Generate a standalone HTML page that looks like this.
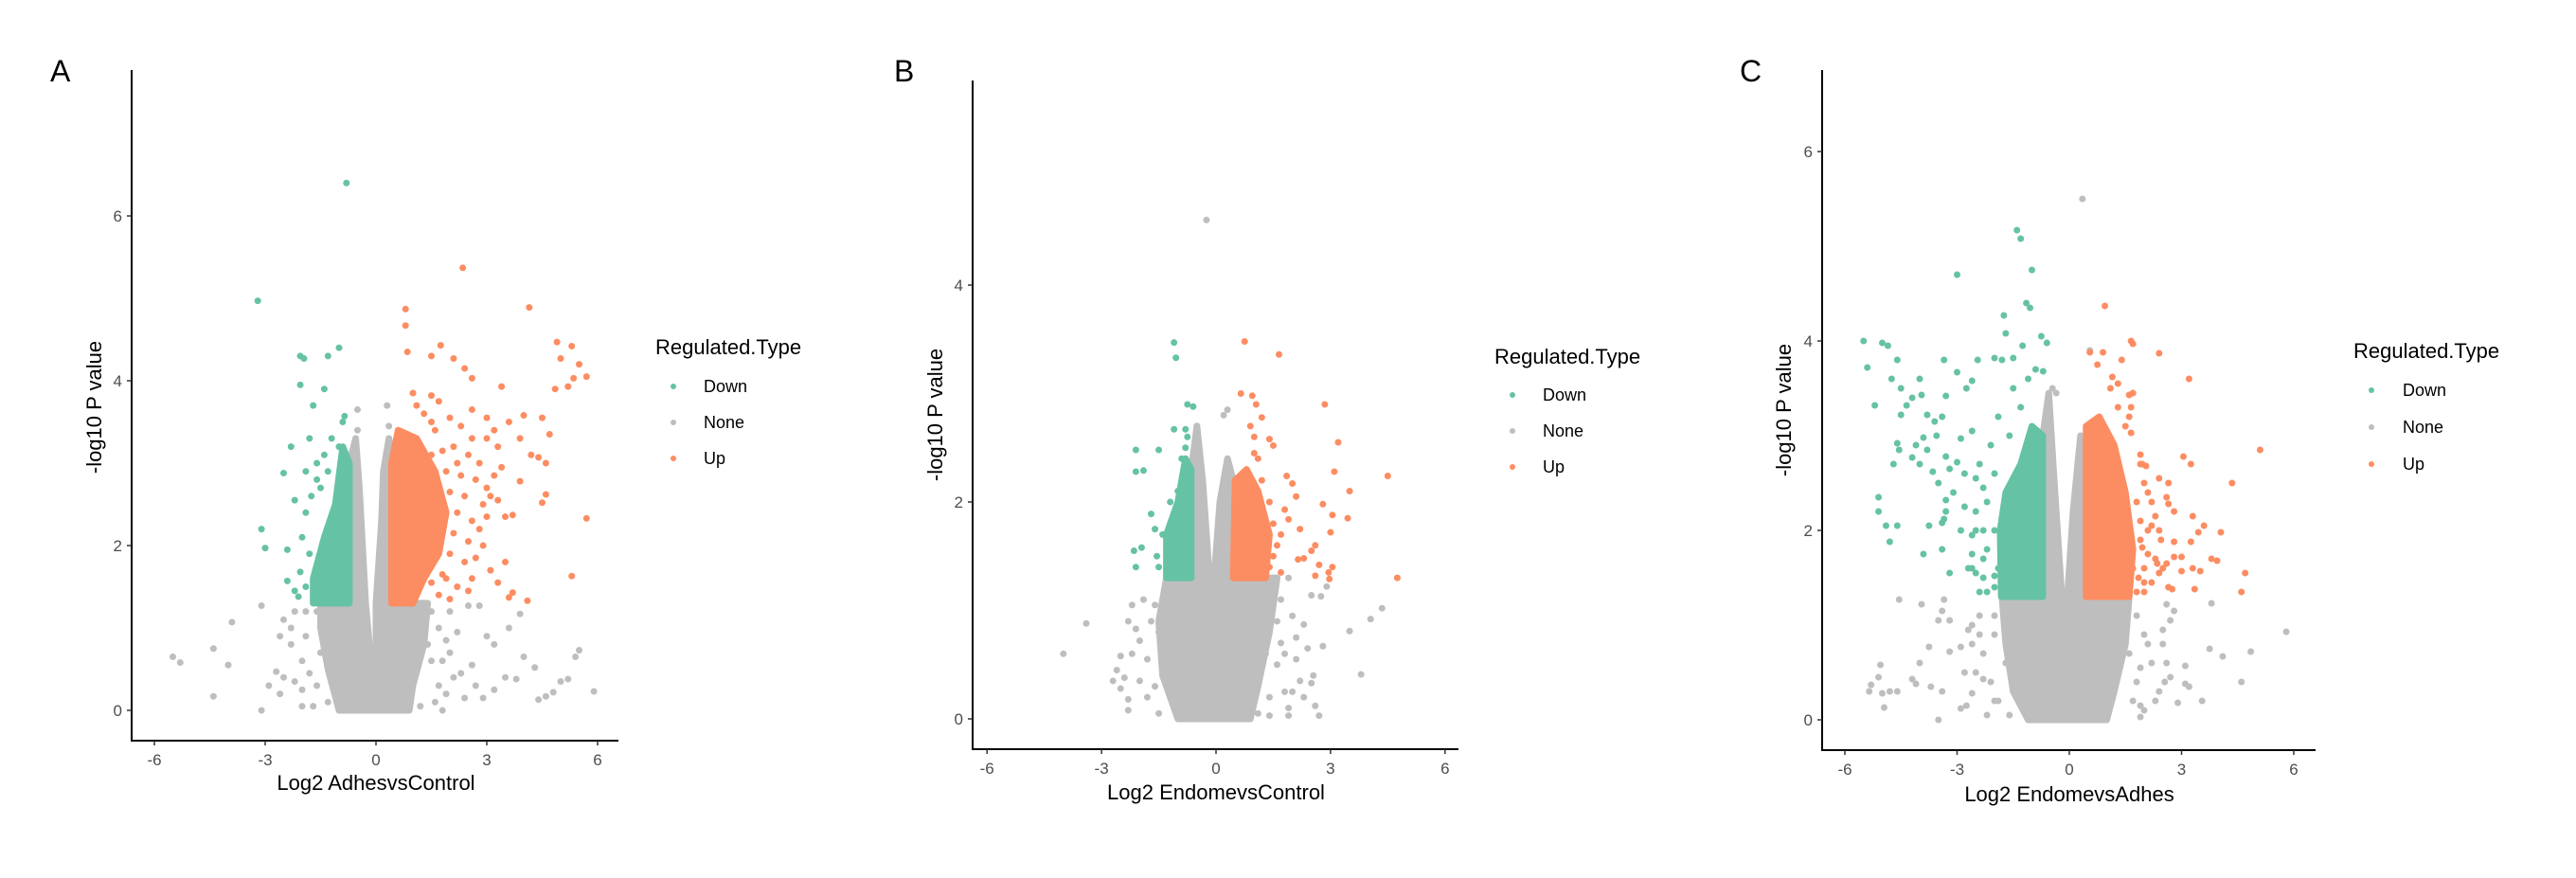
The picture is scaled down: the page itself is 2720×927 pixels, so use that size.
<!DOCTYPE html>
<html><head><meta charset="utf-8">
<style>
html,body{margin:0;padding:0;background:#fff;}
svg{display:block;font-family:"Liberation Sans",sans-serif;}
</style></head>
<body>
<svg id="chart" width="2720" height="927" viewBox="0 0 2720 927" xmlns="http://www.w3.org/2000/svg">
<rect width="2720" height="927" fill="#fff"/>
</svg>
<script>
const xTicks = [-6, -3, 0, 3, 6];
const legendLabels = ["Down", "None", "Up"];

// Panel A data
const aYTicks = [0, 2, 4, 6];
const aGrayCore = [[-1.0,0],[-1.3,0.5],[-1.5,1.0],[-1.5,1.3],[-0.72,1.3],[-0.72,3.0],[-0.55,3.3],[-0.45,2.7],[-0.28,1.3],[-0.1,0.42],[0.0,0.42],[0.0,1.3],[0.15,2.3],[0.2,2.9],[0.35,3.3],[0.42,3.0],[0.42,1.3],[1.4,1.3],[1.3,0.8],[1.0,0.3],[0.9,0]];
const aDownCore = [[-1.7,1.3],[-0.72,1.3],[-0.72,3.0],[-0.9,3.2],[-1.1,2.5],[-1.4,2.1],[-1.7,1.6]];
const aUpCore = [[0.42,1.3],[1.0,1.3],[1.3,1.6],[1.7,1.9],[1.9,2.4],[1.6,2.9],[1.1,3.3],[0.6,3.4],[0.42,3.0]];
const aDown = [[-0.8,6.4],[-3.2,4.97],[-2.05,4.3],[-1.95,4.27],[-1.3,4.3],[-1.0,4.4],[-2.05,3.95],[-1.4,3.9],[-1.7,3.7],[-0.85,3.57],[-2.3,3.2],[-2.5,2.88],[-3.1,2.2],[-3.0,1.97],[-2.4,1.95],[-2.4,1.57],[-2.05,1.68],[-2.1,1.38],[-1.8,3.3],[-1.6,2.8],[-2.2,2.55],[-1.9,2.9],[-1.6,3.0],[-1.4,3.1],[-1.2,3.3],[-1.9,2.4],[-2.0,2.1],[-1.8,1.9],[-1.9,1.5],[-2.2,1.45],[-1.75,2.6],[-1.5,2.7],[-1.3,2.9],[-1.0,3.2],[-0.9,3.5]];
const aUp = [[2.35,5.37],[0.8,4.87],[0.8,4.67],[4.15,4.89],[0.85,4.35],[1.75,4.43],[1.5,4.3],[2.1,4.27],[2.4,4.15],[2.6,4.03],[4.9,4.47],[5.3,4.42],[5.0,4.27],[5.5,4.2],[5.7,4.05],[5.35,4.03],[5.2,3.93],[4.85,3.9],[3.4,3.93],[3.6,3.5],[4.0,3.58],[4.5,3.55],[3.9,3.3],[4.7,3.35],[4.2,3.1],[4.4,3.07],[4.6,3.0],[3.2,3.4],[3.0,3.55],[2.6,3.65],[3.9,2.78],[4.5,2.52],[4.6,2.62],[3.7,2.37],[3.5,2.35],[3.1,2.6],[3.2,2.85],[5.7,2.33],[5.3,1.63],[3.5,1.8],[4.1,1.33],[3.7,1.43],[3.6,1.37],[3.1,1.7],[2.7,1.85],[1.8,1.65],[2.8,2.2],[2.2,3.0],[2.0,3.55],[1.5,3.82],[1.7,3.75],
  [1.0,3.85],[1.1,3.7],[1.3,3.6],[1.5,3.5],[1.6,3.4],[2.3,3.45],[2.6,3.3],[3.0,3.3],[3.3,3.2],[1.2,3.2],[1.5,3.1],[1.8,3.15],[2.1,3.2],[2.5,3.1],[2.8,3.0],[3.4,2.95],[1.4,2.95],[1.9,2.9],[2.3,2.85],[2.7,2.8],[3.0,2.7],[3.3,2.55],[1.6,2.7],[2.0,2.65],[2.4,2.6],[2.9,2.5],[1.8,2.45],[2.2,2.4],[2.6,2.3],[3.0,2.35],[1.7,2.2],[2.1,2.15],[2.5,2.05],[2.9,2.0],[1.6,1.95],[2.0,1.9],[2.4,1.8],[1.9,1.6],[2.2,1.5],[2.5,1.45],[1.7,1.4],[2.0,1.35],[3.3,1.55],[2.6,1.6],[1.5,1.55],[1.3,2.4],[1.25,2.8]];
const aNone = [[-5.5,0.65],[-5.3,0.58],[-4.4,0.75],[-4.4,0.17],[-3.9,1.07],[-4.0,0.55],[-3.1,1.27],[-3.1,0],[-2.9,0.3],[-2.7,0.47],[-2.5,0.4],[-2.2,1.2],[-2.3,0.8],[-1.9,0.9],[2.5,1.27],[2.8,1.27],[3.0,0.9],[3.2,0.8],[3.6,1.0],[3.9,1.17],[4.0,0.65],[4.3,0.52],[3.8,0.38],[3.5,0.4],[3.2,0.25],[2.9,0.15],[4.4,0.13],[4.6,0.17],[4.8,0.22],[5.0,0.35],[5.2,0.38],[5.4,0.65],[5.5,0.73],[5.9,0.23],[2.6,0.55],[2.3,0.45],[1.8,0],[1.9,0.2],[-0.5,3.65],[0.3,3.7],[-1.5,0.7],[-1.6,0.3],[1.5,0.6],[2.0,0.7],[2.2,0.95],[-2.0,0.25],[-1.7,0.05],[1.7,0.3],[-1.2,1.0],[1.2,1.1],
  [-2.5,1.1],[-2.3,1.0],[-2.0,0.6],[-2.2,0.35],[-1.8,0.45],[-1.6,1.2],[-1.9,1.2],[-2.6,0.9],[-2.0,0.05],[1.5,1.2],[1.7,1.0],[1.9,0.85],[2.1,0.4],[1.6,0.1],[2.4,0.15],[1.8,0.6],[1.4,0.8],[-1.3,0.1],[1.2,0.05],[2.7,0.3],[2.0,1.2],[-2.6,0.2],[-1.1,1.25],[-0.5,3.4],[0.35,3.45]];

// Panel B data
const bYTicks = [0, 2, 4];
const bGrayCore = [[-1.0,0],[-1.4,0.4],[-1.5,0.9],[-1.3,1.3],[-0.65,1.3],[-0.65,2.3],[-0.5,2.7],[-0.35,2.2],[-0.17,1.3],[-0.12,0.3],[-0.05,0.3],[-0.05,1.3],[0.1,2.0],[0.3,2.4],[0.45,2.2],[0.45,1.3],[1.6,1.3],[1.4,0.8],[1.1,0.3],[0.9,0]];
const bDownCore = [[-1.3,1.3],[-0.65,1.3],[-0.65,2.3],[-0.8,2.4],[-1.0,2.0],[-1.3,1.7]];
const bUpCore = [[0.45,1.3],[1.3,1.3],[1.4,1.7],[1.1,2.1],[0.8,2.3],[0.5,2.2]];
const bDown = [[-1.1,3.47],[-1.05,3.33],[-0.75,2.9],[-0.6,2.88],[-1.1,2.67],[-0.8,2.67],[-2.1,2.48],[-1.5,2.48],[-2.1,2.28],[-1.9,2.29],[-1.7,1.89],[-1.6,1.75],[-2.15,1.55],[-1.95,1.58],[-1.55,1.5],[-2.1,1.4],[-1.3,1.6],[-0.8,2.5],[-1.0,2.1],[-0.9,1.9],[-1.4,1.7],[-1.5,1.4],[-0.9,2.4],[-1.2,2.0],[-0.75,2.6]];
const bUp = [[0.75,3.48],[1.65,3.36],[0.65,3.0],[0.95,2.98],[1.05,2.9],[2.85,2.9],[1.2,2.78],[1.4,2.58],[1.5,2.52],[3.2,2.55],[1.0,2.45],[1.1,2.4],[1.85,2.24],[2.0,2.17],[3.1,2.28],[4.5,2.24],[3.5,2.1],[2.1,2.05],[2.8,1.98],[1.8,1.93],[3.05,1.88],[3.45,1.85],[1.9,1.84],[2.2,1.75],[3.0,1.72],[1.7,1.70],[2.6,1.60],[2.5,1.55],[2.15,1.47],[2.3,1.48],[2.7,1.42],[3.05,1.40],[2.6,1.32],[2.95,1.35],[2.97,1.29],[4.75,1.3],[1.5,1.5],[1.2,1.35],[1.0,2.6],[1.2,2.2],[1.4,2.0],[1.5,1.8],[1.6,1.6],[1.4,1.4],[1.7,1.35],[0.9,2.7],[1.3,1.8],[1.1,2.0]];
const bNone = [[-0.25,4.6],[0.3,2.85],[0.2,2.8],[-0.5,2.7],[-4.0,0.6],[-3.4,0.88],[-2.2,1.05],[-2.1,0.83],[-2.0,0.72],[-2.2,0.6],[-2.5,0.58],[-2.4,0.38],[-2.5,0.28],[-2.3,0.18],[-2.3,0.08],[-1.8,0.55],[-1.6,1.05],[2.5,1.14],[2.75,1.13],[2.9,1.22],[4.35,1.02],[4.05,0.92],[3.5,0.81],[3.8,0.41],[2.8,0.67],[2.4,0.65],[2.5,0.33],[2.6,0.12],[2.7,0.03],[1.9,0.1],[1.9,0.03],[1.4,0.03],[1.1,0.05],[1.8,0.25],[2.1,0.55],[2.3,0.87],[2.0,0.95],[1.7,1.1],[-1.5,0.8],[-1.8,0.2],[2.2,0.35],[2.55,0.4],[1.6,0.5],
  [-2.7,0.35],[-2.0,0.35],[-1.7,0.9],[-1.6,0.3],[-1.9,1.1],[-2.3,0.9],[1.6,0.9],[1.8,0.6],[2.0,0.25],[1.4,0.2],[1.7,0.7],[2.1,0.75],[1.5,1.2],[1.9,1.3],[2.3,0.2],[-1.5,0.05],[1.3,0.6],[-2.6,0.45]];

// Panel C data
const cYTicks = [0, 2, 4, 6];
const cGrayCore = [[-1.1,0],[-1.5,0.3],[-1.7,0.8],[-1.8,1.3],[-0.71,1.3],[-0.71,3.0],[-0.55,3.45],[-0.4,2.5],[-0.2,1.3],[-0.1,0.5],[-0.05,0.5],[-0.05,1.3],[0.1,2.2],[0.3,3.0],[0.45,2.8],[0.45,1.3],[1.6,1.3],[1.5,0.8],[1.2,0.3],[1.0,0]];
const cDownCore = [[-1.82,1.3],[-0.71,1.3],[-0.71,3.0],[-1.0,3.1],[-1.3,2.7],[-1.7,2.4],[-1.85,2.0]];
const cUpCore = [[0.45,1.3],[1.6,1.3],[1.7,1.8],[1.5,2.4],[1.2,2.9],[0.8,3.2],[0.45,3.1]];
const cDown = [[-1.4,5.17],[-1.3,5.08],[-3.0,4.7],[-1.0,4.75],[-1.15,4.4],[-1.05,4.35],[-1.75,4.27],[-1.7,4.08],[-0.75,4.05],[-0.6,3.98],[-1.25,3.95],[-5.5,4.0],[-5.0,3.98],[-4.85,3.95],[-5.4,3.72],[-4.6,3.8],[-3.35,3.8],[-2.45,3.8],[-2.0,3.82],[-1.5,3.82],[-1.8,3.8],[-0.9,3.7],[-0.7,3.68],[-4.75,3.6],[-4.0,3.6],[-3.0,3.67],[-2.6,3.58],[-2.75,3.5],[-4.5,3.5],[-4.2,3.4],[-3.95,3.43],[-3.3,3.42],[-5.2,3.32],[-4.35,3.32],[-4.5,3.22],[-3.8,3.22],[-3.6,3.15],[-3.4,3.2],[-2.6,3.05],[-2.9,2.97],[-3.55,3.0],[-3.9,2.98],[-4.1,2.9],[-4.6,2.92],[-4.55,2.85],[-3.8,2.85],[-3.3,2.78],[-3.0,2.72],[-4.2,2.77],[-4.0,2.7],[-4.7,2.7],[-3.65,2.62],[-3.2,2.65],[-2.8,2.6],[-2.5,2.55],[-3.5,2.5],[-2.3,2.45],[-3.1,2.4],[-3.3,2.32],[-2.8,2.25],[-2.5,2.2],[-3.3,2.2],[-5.1,2.35],[-5.1,2.2],[-4.9,2.05],[-4.6,2.05],[-3.75,2.05],[-3.35,2.12],[-3.4,2.08],[-2.9,2.0],[-2.6,1.95],[-2.3,2.0],[-4.8,1.88],[-3.4,1.8],[-3.9,1.75],[-2.6,1.75],[-2.3,1.7],[-2.7,1.6],[-3.2,1.55],[-2.5,1.55],[-2.0,1.52],[-2.4,1.35],[-2.2,1.35],[-2.0,1.4],
  [-2.0,2.6],[-2.2,2.3],[-2.0,2.0],[-2.2,1.8],[-1.9,1.6],[-2.3,1.5],[-2.1,2.9],[-1.6,3.0],[-1.3,3.3],[-1.9,3.2],[-2.4,2.7],[-1.5,3.5],[-1.1,3.6],[-2.5,2.0],[-2.6,1.6]];
const cUp = [[0.95,4.37],[1.65,4.0],[1.7,3.97],[2.4,3.87],[0.55,3.88],[0.9,3.88],[1.4,3.8],[0.75,3.75],[1.15,3.62],[1.3,3.55],[3.2,3.6],[1.7,3.45],[1.6,3.43],[1.65,3.3],[1.6,3.2],[1.65,3.03],[5.1,2.85],[3.05,2.78],[3.25,2.7],[1.95,2.7],[2.05,2.68],[2.4,2.55],[2.65,2.5],[4.35,2.5],[2.6,2.35],[2.65,2.28],[2.8,2.2],[3.3,2.15],[3.6,2.05],[3.45,1.98],[4.05,1.98],[2.3,2.15],[2.2,2.05],[2.8,1.88],[3.25,1.88],[2.45,1.9],[1.95,1.82],[2.1,1.75],[2.35,1.65],[2.6,1.65],[2.8,1.72],[3.0,1.72],[3.8,1.7],[3.95,1.68],[3.3,1.6],[3.5,1.57],[3.0,1.57],[2.4,1.55],[2.0,1.6],[4.7,1.55],[2.65,1.4],[2.75,1.38],[3.35,1.38],[4.6,1.35],[2.0,1.35],[2.2,1.45],[1.85,1.5],[1.9,2.1],[2.1,2.4],[1.9,2.7],
  [1.9,2.8],[2.0,2.5],[1.8,2.3],[2.1,2.0],[1.9,1.9],[2.3,1.7],[1.7,1.6],[2.0,1.45],[1.8,1.35],[1.3,3.3],[1.1,3.5],[1.5,3.1],[2.2,2.3],[2.4,2.0],[2.5,1.6]];
const cNone = [[0.35,5.5],[0.55,3.9],[-0.45,3.5],[-0.35,3.45],[-4.55,1.27],[-3.95,1.22],[-3.35,1.27],[-3.4,1.15],[-3.5,1.05],[-3.2,1.05],[-2.7,0.95],[-2.4,1.1],[-2.4,0.9],[-2.6,0.8],[-2.9,0.77],[-3.75,0.77],[-3.2,0.72],[-5.05,0.58],[-5.1,0.45],[-4.0,0.6],[-4.2,0.43],[-4.1,0.38],[-5.3,0.37],[-5.35,0.3],[-5.0,0.28],[-4.8,0.3],[-4.6,0.3],[-4.95,0.13],[-3.7,0.35],[-3.4,0.3],[-3.5,0.0],[-2.9,0.12],[-2.75,0.15],[-2.6,0.28],[-2.3,0.43],[-2.0,0.2],[-1.6,0.05],[-2.2,0.05],[5.8,0.93],[4.1,0.67],[4.85,0.72],[3.75,0.75],[3.8,1.23],[4.6,0.4],[3.55,0.2],[3.1,0.57],[3.1,0.38],[3.2,0.35],[2.55,0.4],[2.7,0.45],[2.5,0.95],[2.7,1.05],[2.8,1.15],[2.6,1.22],[2.9,0.18],[1.9,0.03],[1.9,0.15],[2.3,0.2],[2.6,0.6],[1.9,0.55],[2.1,0.8],
  [-2.0,0.9],[-2.3,0.7],[-2.5,0.5],[-2.1,0.4],[-2.0,1.1],[-2.6,1.0],[-1.9,0.2],[1.8,1.1],[2.0,0.9],[2.2,0.6],[1.8,0.4],[2.4,0.3],[2.0,0.1],[1.6,0.7],[2.5,0.8],[1.7,0.2],[-2.8,0.5],[-1.7,0.6]];

const COL = {Down:"#66c2a5", None:"#bebebe", Up:"#fc8d62"};
const NS = "http://www.w3.org/2000/svg";
const svg = document.getElementById("chart");
function mk(tag, attrs, parent){ const e=document.createElementNS(NS,tag); for(const k in attrs) e.setAttribute(k,attrs[k]); (parent||svg).appendChild(e); return e; }

function drawPanel(p){
  const g = mk("g",{});
  
  
  const sx = v => p.x0 + v*p.xu;
  const sy = v => p.y0 - v*p.yu;
  const L = mk("text",{x:p.letterX,y:p.letterY+12,"font-size":32,fill:"#000"},g);
  L.textContent = p.id;
  
  
  const pts = mk("g",{},g);
  
  
  const poly = (arr,col,name)=>{
    const e = mk("polygon",{points:arr.map(d=>sx(d[0])+","+sy(d[1])).join(" "),fill:col,stroke:col,"stroke-width":7,"stroke-linejoin":"round"},pts);
    
    
  };
  const dots = (arr,col,name)=>{
    arr.forEach(d=>{
      const c = mk("circle",{cx:sx(d[0]),cy:sy(d[1]),r:3.5,fill:col},pts);
      
      
    });
  };
  poly(p.grayCore,COL.None,"none-dense-core");
  dots(p.none,COL.None,"none-point");
  poly(p.downCore,COL.Down,"down-dense-core");
  poly(p.upCore,COL.Up,"up-dense-core");
  dots(p.down,COL.Down,"down-point");
  dots(p.up,COL.Up,"up-point");
  const ya = mk("line",{x1:p.ax,y1:p.top,x2:p.ax,y2:p.bottom+1,stroke:"#000","stroke-width":2},g);
  
  
  const xa = mk("line",{x1:p.ax-1,y1:p.bottom,x2:p.right,y2:p.bottom,stroke:"#000","stroke-width":2},g);
  
  
  xTicks.forEach(t=>{
    const x=sx(t);
    const tk = mk("line",{x1:x,y1:p.bottom,x2:x,y2:p.bottom+5,stroke:"#333","stroke-width":1.5},g);
    
    
    const tl = mk("text",{x:x,y:p.bottom+26,"font-size":17,fill:"#4d4d4d","text-anchor":"middle"},g);
    tl.textContent = String(t);
    
    
  });
  p.yTicks.forEach(t=>{
    const y=sy(t);
    const tk = mk("line",{x1:p.ax-5,y1:y,x2:p.ax,y2:y,stroke:"#333","stroke-width":1.5},g);
    
    
    const tl = mk("text",{x:p.ax-10,y:y+6,"font-size":17,fill:"#4d4d4d","text-anchor":"end"},g);
    tl.textContent = String(t);
    
    
  });
  const xt = mk("text",{x:sx(0),y:p.xTitleY,"font-size":22,fill:"#000","text-anchor":"middle"},g);
  xt.textContent = p.xTitle;
  
  
  const yt = mk("text",{x:0,y:0,"font-size":22,fill:"#000","text-anchor":"middle",transform:"translate("+(p.yTitleX+8)+","+p.yTitleY+") rotate(-90)"},g);
  yt.textContent = "-log10 P value";
  
  
  const lg = mk("g",{},g);
  
  
  const lt = mk("text",{x:p.legX,y:p.legTitleY+8,"font-size":22,fill:"#000"},lg);
  lt.textContent = "Regulated.Type";
  
  
  legendLabels.forEach((lab,i)=>{
    const y = p.legY0 + i*p.legStep;
    const c = mk("circle",{cx:p.legDotX,cy:y,r:3,fill:COL[lab]},lg);
    
    
    const t = mk("text",{x:p.legLabX,y:y+6,"font-size":18,fill:"#000"},lg);
    t.textContent = lab;
    
    
  });
}

drawPanel({id:"A",x0:397,xu:39,y0:750,yu:87,ax:139,top:74,bottom:782,right:653,
  yTicks:aYTicks,grayCore:aGrayCore,downCore:aDownCore,upCore:aUpCore,down:aDown,up:aUp,none:aNone,
  letterX:53,letterY:74,xTitle:"Log2 AdhesvsControl",xTitleY:834,yTitleX:99,yTitleY:430,
  legX:692,legTitleY:366,legDotX:711,legLabX:743,legY0:408,legStep:38});
drawPanel({id:"B",x0:1284,xu:40.3,y0:759,yu:114.5,ax:1027,top:85,bottom:791,right:1540,
  yTicks:bYTicks,grayCore:bGrayCore,downCore:bDownCore,upCore:bUpCore,down:bDown,up:bUp,none:bNone,
  letterX:944,letterY:74,xTitle:"Log2 EndomevsControl",xTitleY:844,yTitleX:987,yTitleY:438,
  legX:1578,legTitleY:376,legDotX:1597,legLabX:1629,legY0:417,legStep:38});
drawPanel({id:"C",x0:2185,xu:39.5,y0:760,yu:100,ax:1924,top:74,bottom:792,right:2445,
  yTicks:cYTicks,grayCore:cGrayCore,downCore:cDownCore,upCore:cUpCore,down:cDown,up:cUp,none:cNone,
  letterX:1837,letterY:74,xTitle:"Log2 EndomevsAdhes",xTitleY:846,yTitleX:1883,yTitleY:433,
  legX:2485,legTitleY:370,legDotX:2504,legLabX:2537,legY0:412,legStep:39});
</script>
</body></html>
